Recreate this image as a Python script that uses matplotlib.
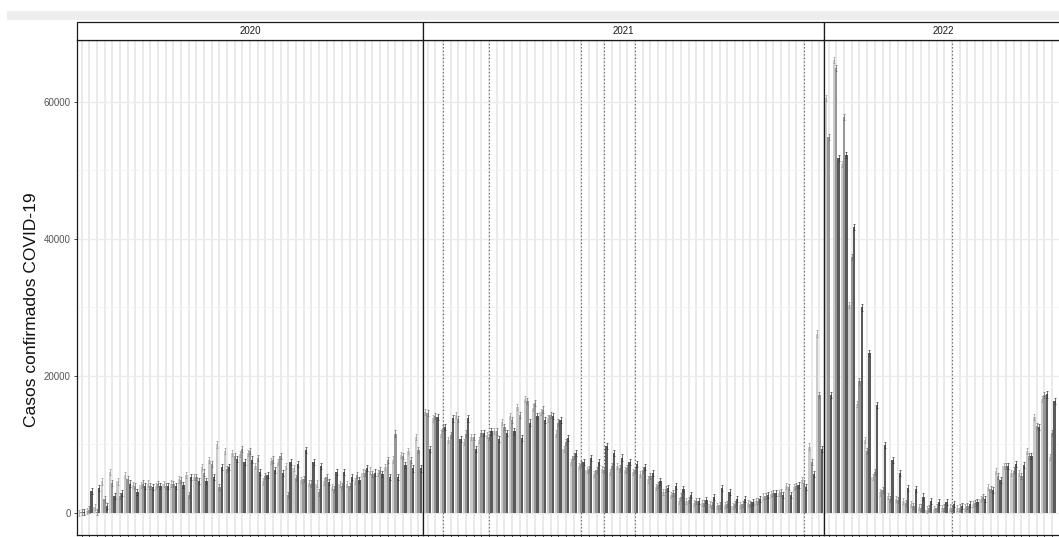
import matplotlib.pyplot as plt
from matplotlib.patches import Rectangle

plt.rcParams['font.family'] = ['Liberation Sans', 'DejaVu Sans']

# casos semanales, tres barras por semana (tonos claro / medio / oscuro)
anios = ['2020', '2021', '2022']

claro_2020 = [0, 300, 900, 4600, 6000, 4600, 5500, 4100, 4100, 4300, 4000, 4200, 4300, 4900, 5500,
              5300, 6700, 7700, 10000, 9000, 8800, 8600, 8800, 6900, 4600, 7600, 7400, 6800, 6600, 4800,
              4400, 4300, 4600, 3800, 4200, 4200, 4700, 5900, 6200, 5800, 6700, 7800, 8500, 9000, 11100]
medio_2020 = [100, 500, 200, 2000, 4400, 2500, 4900, 4000, 4300, 3900, 4200, 4000, 4200, 4800, 2600,
              5300, 5900, 7100, 3800, 6400, 8300, 9300, 9000, 8000, 5400, 7800, 8300, 2600, 5100, 5000,
              4300, 3000, 5300, 3500, 4000, 4000, 5500, 5800, 5700, 6300, 7700, 11600, 8300, 7700, 9200]
oscuro_2020 = [200, 3200, 3700, 1000, 2500, 2900, 4300, 3100, 3900, 3800, 3900, 3900, 3900, 4100, 5300,
               4700, 4700, 5300, 6700, 6700, 7900, 7500, 7800, 6000, 5600, 6300, 5800, 7500, 7200, 9200,
               7500, 6800, 4500, 6000, 6000, 5200, 4800, 6600, 5900, 5700, 5300, 5300, 7000, 6500, 6500]

claro_2021 = [14800, 13800, 11600, 10700, 14300, 10400, 11100, 10700, 11400, 12000, 13300, 14100, 15500,
              16600, 15400, 14800, 13800, 11600, 9400, 7500, 6800, 6300, 5700, 6400, 6000, 6800, 6300,
              6000, 5700, 4900, 3800, 3100, 2600, 1800, 1700, 1500, 1400, 1300, 1000, 1200, 1000, 1200,
              1400, 1700, 2400, 2800, 2900, 4000, 3800, 4800, 9700, 26200]
medio_2021 = [14600, 14100, 12400, 11400, 13700, 11600, 11100, 11700, 11100, 11900, 12600, 13600, 14300,
              16300, 16100, 15100, 14300, 13200, 10400, 8300, 7200, 6400, 6300, 6300, 6900, 6500, 6500,
              6300, 6300, 5400, 4100, 3500, 2900, 2400, 1900, 1700, 1500, 1200, 1100, 1300, 1300, 1300,
              1300, 1800, 2500, 2900, 3000, 3800, 3900, 4400, 7400, 17200]
oscuro_2021 = [9300, 14000, 12600, 13800, 10800, 13800, 9400, 11700, 11900, 10800, 11700, 11900, 10900,
               13200, 14200, 13600, 14200, 13600, 10900, 8700, 7500, 8000, 7400, 9800, 8700, 8100, 7400,
               7200, 6700, 5800, 4600, 3700, 3900, 3500, 2600, 1800, 1900, 2300, 3700, 3100, 2100, 2000,
               1600, 2100, 2600, 2900, 2600, 2600, 4100, 3800, 5700, 9300]

claro_2022 = [60600, 66100, 51000, 30400, 15900, 10700, 5300, 3000, 2500, 2000, 1700, 1300, 900, 500, 600,
              700, 800, 700, 800, 1300, 2100, 3800, 6100, 6900, 5800, 5800, 9100, 14000, 16600, 8200]
medio_2022 = [54900, 65000, 57800, 37400, 19200, 9000, 6000, 3400, 2100, 1900, 1500, 1000, 800, 700, 800,
              800, 700, 800, 1000, 1500, 2300, 3500, 5400, 6900, 6200, 5400, 8300, 12700, 17200, 11700]
oscuro_2022 = [17200, 51800, 52300, 41800, 30000, 23300, 15800, 9900, 7700, 5800, 3600, 3500, 2400, 1800, 1600,
               1600, 1300, 1000, 1300, 1600, 2100, 3400, 4800, 6900, 7200, 7000, 8300, 12500, 17300, 16300]

# semanas con linea punteada
marcas = {'2020': [], '2021': [2, 8, 20, 23, 27, 49], '2022': [16]}
error_casos = 450

series = {
    '2020': (claro_2020, medio_2020, oscuro_2020),
    '2021': (claro_2021, medio_2021, oscuro_2021),
    '2022': (claro_2022, medio_2022, oscuro_2022),
}
colores = ['#cccccc', '#969696', '#5a5a5a']
colores_err = ['#9a9a9a', '#6e6e6e', '#3a3a3a']

W, H = 1059, 537
fig = plt.figure(figsize=(W / 100, H / 100), dpi=100, facecolor='white')

# franja gris de la parte superior
fig.patches.append(Rectangle((7 / W, 1 - 20 / H), 1, 9 / H, transform=fig.transFigure,
                             facecolor='#ededed', edgecolor='none', zorder=0))

panel_px = {'2020': (77, 423), '2021': (423, 824), '2022': (824, 1063)}
y_top, y_bot = 40, 535
ylim = (-3212, 69050)

for k, anio in enumerate(anios):
    x0, x1 = panel_px[anio]
    ax = fig.add_axes([x0 / W, (H - y_bot) / H, (x1 - x0) / W, (y_bot - y_top) / H])
    ax.set_facecolor('white')
    vals = series[anio]
    n = len(vals[0])
    semanas = list(range(n))
    ancho = 0.3
    for j, (v, c, ce) in enumerate(zip(vals, colores, colores_err)):
        xs = [s + (j - 1) * ancho for s in semanas]
        ax.bar(xs, v, width=ancho, color=c, edgecolor='none', zorder=2)
        ax.errorbar(xs, v, yerr=error_casos, fmt='none', ecolor=ce, elinewidth=0.5,
                    capsize=0.9, capthick=0.5, zorder=3)
    for s in marcas[anio]:
        ax.axvline(s, color='#555555', lw=0.8, ls=(0, (1, 2.2)), zorder=1.5)

    if anio == '2022':
        ax.set_xlim(-0.6, 30.4)
    else:
        ax.set_xlim(-0.6, n - 1 + 0.6)
    ax.set_ylim(*ylim)
    ax.set_xticks(semanas)
    ax.set_yticks([0, 20000, 40000, 60000])
    ax.set_yticks([10000, 30000, 50000], minor=True)
    ax.grid(axis='x', which='major', color='#e6e6e6', lw=1.2, zorder=0)
    ax.grid(axis='y', which='major', color='#ebebeb', lw=1.0, zorder=0)
    ax.grid(axis='y', which='minor', color='#f2f2f2', lw=0.6, zorder=0)
    ax.set_axisbelow(True)
    for sp in ax.spines.values():
        sp.set_color('#1a1a1a')
        sp.set_linewidth(0.9)
    ax.tick_params(axis='x', which='major', length=2.5, width=0.6, color='#333333', labelbottom=False)
    ax.tick_params(axis='y', which='minor', length=0)
    if k == 0:
        ax.tick_params(axis='y', which='major', length=2.5, width=0.6, color='#333333',
                       labelsize=7, labelcolor='#555555', pad=2)
        ax.set_yticklabels(['0', '20000', '40000', '60000'])
    else:
        ax.tick_params(axis='y', which='major', length=0, labelleft=False)

    # cabecera de faceta
    fig.patches.append(Rectangle((x0 / W, 1 - y_top / H), (x1 - x0) / W, 18 / H,
                                 transform=fig.transFigure, facecolor='white',
                                 edgecolor='#1a1a1a', linewidth=0.9, zorder=5))
    fig.text((x0 + x1) / 2 / W, 1 - 31 / H, anio, ha='center', va='center',
             fontsize=7, color='#1a1a1a', zorder=6)

fig.text(32 / W, 1 - 310 / H, 'Casos confirmados COVID-19', rotation=90,
         ha='center', va='center', fontsize=12.5, color='#111111')

fig.savefig('out.png', dpi=100, facecolor='white')
